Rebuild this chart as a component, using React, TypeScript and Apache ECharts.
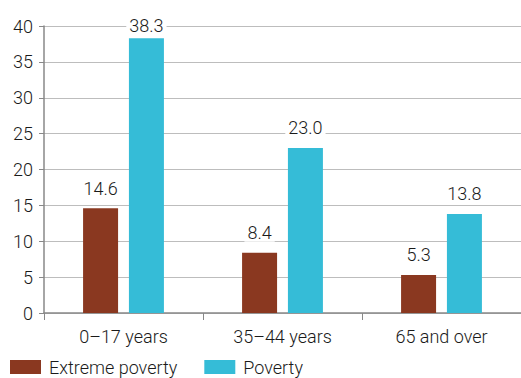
import React, { useEffect, useRef } from "react";
import * as echarts from "echarts";

const categories = ["0–17 years", "35–44 years", "65 and over"];
const extremePoverty = [14.6, 8.4, 5.3];
const poverty = [38.3, 23.0, 13.8];
const seriesNames = ["Extreme poverty", "Poverty"];
const yTicks = { min: 0, max: 40, step: 5 };

const FONT = "Roboto, 'Noto Sans', sans-serif";
const TEXT = "#1a1a1a";
const WEIGHT = 300;

export default function App() {
  const ref = useRef<HTMLDivElement>(null);

  useEffect(() => {
    if (!ref.current) return;
    const chart = echarts.init(ref.current, null, { renderer: "svg" });
    const label = {
      show: true,
      position: "top" as const,
      distance: 11,
      fontFamily: FONT,
      fontSize: 18,
      fontWeight: WEIGHT,
      color: TEXT,
      backgroundColor: "#fff",
      padding: [0, 3],
      formatter: (p: any) => Number(p.value).toFixed(1),
    };
    // the tallest bar sits close to the top, so its label hugs the bar
    const povertyData = poverty.map((v) =>
      v > 35 ? { value: v, label: { distance: 4 } } : v
    );
    chart.setOption({
      animation: false,
      textStyle: { fontFamily: FONT, fontWeight: WEIGHT },
      grid: { left: 44, right: 0, top: 26, bottom: 65, containLabel: false },
      legend: {
        left: 10,
        top: 358,
        padding: 0,
        itemWidth: 31,
        itemHeight: 14,
        itemGap: 27,
        icon: "rect",
        textStyle: {
          fontFamily: FONT,
          fontSize: 18,
          fontWeight: WEIGHT,
          color: TEXT,
          lineHeight: 18,
          padding: [0, 0, 0, 3],
        },
        data: seriesNames,
      },
      xAxis: {
        type: "category",
        data: categories,
        axisLine: { lineStyle: { color: "#888", width: 1.5 } },
        axisTick: { show: true, length: 7, lineStyle: { color: "#888" } },
        axisLabel: {
          fontFamily: FONT,
          fontSize: 18,
          fontWeight: WEIGHT,
          color: TEXT,
          margin: 14,
        },
      },
      yAxis: {
        type: "value",
        min: yTicks.min,
        max: yTicks.max,
        interval: yTicks.step,
        axisLine: { show: true, lineStyle: { color: "#888", width: 1.5 } },
        axisTick: { show: true, length: 5, lineStyle: { color: "#888" } },
        axisLabel: {
          fontFamily: FONT,
          fontSize: 18,
          fontWeight: WEIGHT,
          color: TEXT,
          margin: 11,
        },
        splitLine: { lineStyle: { color: "#bdbdbd", width: 1 } },
      },
      series: [
        {
          name: seriesNames[0],
          type: "bar",
          data: extremePoverty,
          barWidth: 35,
          barGap: "31%",
          itemStyle: { color: "#8a3820" },
          label,
        },
        {
          name: seriesNames[1],
          type: "bar",
          data: povertyData,
          barWidth: 35,
          itemStyle: { color: "#35bcd7" },
          label,
        },
      ],
    });
    return () => chart.dispose();
  }, []);

  return (
    <div
      ref={ref}
      style={{
        position: "fixed",
        left: 0,
        top: 0,
        width: 521,
        height: 378,
        background: "#fff",
      }}
    />
  );
}
